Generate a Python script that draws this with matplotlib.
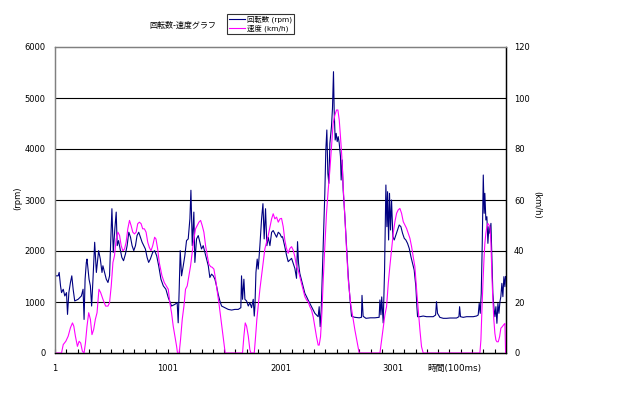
import matplotlib
matplotlib.use('Agg')
import matplotlib.pyplot as plt
import numpy as np

plt.rcParams['font.family'] = ['DejaVu Sans', 'Noto Sans CJK JP']

# 回転数 (rpm) : sample number / value
rpm_t = [1, 29, 38, 50, 59, 74, 88, 103, 112, 124, 138, 150, 162, 176, 206, 235, 250, 259, 268, 279,
         285, 303, 315, 326, 338, 353, 368, 388, 403, 418, 426, 441, 456, 471, 485, 494, 506, 518, 532, 544,
         553, 565, 579, 594, 609, 626, 641, 656, 671, 685, 700, 715, 729, 744, 759, 774, 788, 803, 818, 832,
         847, 868, 885, 903, 921, 941, 962, 985, 1006, 1035, 1065, 1085, 1094, 1103, 1112, 1124, 1139, 1153, 1168, 1183,
         1198, 1207, 1219, 1233, 1242, 1257, 1272, 1287, 1301, 1316, 1331, 1346, 1361, 1375, 1390, 1405, 1420, 1434, 1449, 1464,
         1479, 1508, 1538, 1568, 1597, 1627, 1650, 1656, 1665, 1677, 1686, 1701, 1716, 1730, 1745, 1760, 1769, 1775, 1784, 1795,
         1804, 1819, 1834, 1846, 1857, 1869, 1881, 1893, 1908, 1923, 1937, 1952, 1967, 1982, 1997, 2011, 2020, 2040, 2055, 2070,
         2085, 2100, 2114, 2129, 2144, 2153, 2162, 2173, 2188, 2203, 2218, 2233, 2247, 2262, 2277, 2292, 2307, 2321, 2336, 2345,
         2354, 2363, 2375, 2386, 2395, 2404, 2413, 2422, 2431, 2440, 2454, 2463, 2472, 2478, 2487, 2496, 2505, 2514, 2523, 2534,
         2540, 2549, 2558, 2573, 2588, 2603, 2617, 2632, 2660, 2700, 2720, 2725, 2735, 2760, 2800, 2840, 2877, 2884, 2893, 2900,
         2913, 2925, 2937, 2946, 2952, 2961, 2969, 2978, 2987, 2999, 3011, 3026, 3040, 3055, 3070, 3085, 3100, 3114, 3129, 3144,
         3159, 3174, 3188, 3203, 3212, 3218, 3239, 3268, 3298, 3327, 3357, 3378, 3386, 3395, 3416, 3446, 3475, 3505, 3534, 3564,
         3585, 3591, 3599, 3623, 3653, 3682, 3712, 3741, 3756, 3765, 3774, 3783, 3792, 3801, 3809, 3815, 3824, 3833, 3842, 3851,
         3860, 3869, 3878, 3886, 3895, 3904, 3913, 3922, 3931, 3940, 3949, 3957, 3966, 3975, 3984, 3993, 3999]
rpm_v = [1513, 1513, 1580, 1316, 1184, 1250, 1118, 1184, 757, 1184, 1382, 1513, 1250, 1020, 1053, 1118, 1250, 658, 1447, 1776,
         1842, 1447, 1316, 921, 1447, 2171, 1579, 2007, 1842, 1579, 1710, 1579, 1447, 1382, 1513, 2105, 2829, 1974, 2434, 2763,
         2105, 2204, 2039, 1875, 1809, 1941, 2105, 2368, 2270, 2105, 2007, 2105, 2303, 2368, 2270, 2171, 2105, 2039, 1875, 1776,
         1842, 1974, 2007, 1908, 1710, 1447, 1316, 1250, 1086, 921, 954, 987, 592, 1250, 2007, 1513, 1710, 1908, 2204, 2237,
         2632, 3191, 2105, 2763, 1776, 2237, 2303, 2171, 2039, 2105, 1974, 1842, 1710, 1480, 1546, 1513, 1447, 1316, 1151, 1020,
         921, 888, 855, 842, 855, 855, 888, 1513, 1053, 1447, 1053, 1020, 921, 987, 888, 1053, 724, 921, 1579, 1842,
         1645, 2105, 2632, 2928, 2237, 2829, 2105, 2270, 2105, 2368, 2401, 2336, 2270, 2368, 2336, 2270, 2281, 2085, 1922, 1791,
         1824, 1856, 1758, 1660, 1464, 2183, 1758, 1562, 1431, 1301, 1170, 1105, 1039, 974, 908, 843, 778, 745, 712, 908,
         516, 843, 1693, 2477, 3131, 3980, 4373, 3523, 3327, 4111, 4438, 4797, 5516, 4765, 4176, 4307, 4144, 4242, 4111, 3850,
         3392, 3784, 3196, 2673, 2085, 1500, 1100, 720, 700, 690, 700, 1130, 720, 680, 690, 690, 700, 1040, 750, 1100,
         590, 1600, 3294, 2477, 3163, 2216, 3131, 2412, 3000, 2281, 2216, 2314, 2412, 2510, 2477, 2346, 2248, 2216, 2150, 2052,
         1889, 1758, 1627, 1301, 908, 712, 712, 725, 712, 712, 712, 745, 1007, 778, 699, 680, 680, 686, 686, 686,
         712, 908, 712, 699, 712, 712, 712, 725, 745, 974, 778, 1170, 2150, 3490, 2739, 3131, 2608, 2673, 2150, 2477,
         2346, 2542, 1824, 1170, 908, 712, 908, 582, 974, 778, 1007, 1105, 1366, 1105, 1497, 1301, 1500]

# 速度 (km/h)
kmh_t = [1, 59, 74, 97, 118, 138, 156, 168, 182, 200, 215, 229, 244, 259, 271, 285, 300, 315, 329, 344,
         359, 374, 391, 406, 426, 450, 471, 485, 500, 515, 529, 544, 559, 574, 588, 603, 618, 632, 647, 662,
         676, 691, 706, 721, 735, 750, 765, 779, 794, 809, 824, 838, 853, 868, 885, 897, 912, 926, 950, 971,
         1006, 1020, 1035, 1050, 1065, 1080, 1088, 1103, 1115, 1130, 1145, 1159, 1174, 1189, 1204, 1219, 1233, 1248, 1263, 1278,
         1293, 1307, 1322, 1337, 1352, 1366, 1381, 1396, 1411, 1426, 1440, 1455, 1470, 1485, 1500, 1511, 1656, 1665, 1677, 1689,
         1701, 1716, 1730, 1739, 1769, 1781, 1792, 1804, 1819, 1834, 1849, 1863, 1878, 1893, 1908, 1923, 1937, 1952, 1967, 1982,
         1997, 2011, 2026, 2040, 2055, 2070, 2085, 2100, 2114, 2129, 2144, 2159, 2173, 2188, 2203, 2218, 2233, 2247, 2262, 2277,
         2292, 2307, 2321, 2336, 2345, 2357, 2369, 2381, 2395, 2410, 2425, 2440, 2454, 2469, 2484, 2499, 2511, 2523, 2534, 2546,
         2558, 2573, 2588, 2603, 2624, 2662, 2700, 2884, 2928, 2943, 2958, 2972, 2987, 3002, 3017, 3032, 3046, 3061, 3076, 3091,
         3105, 3120, 3135, 3150, 3165, 3179, 3194, 3203, 3212, 3224, 3239, 3253, 3268, 3771, 3780, 3789, 3798, 3807, 3815, 3824,
         3833, 3842, 3851, 3860, 3869, 3878, 3886, 3895, 3904, 3913, 3922, 3934, 3946, 3957, 3969, 3981, 3993, 3999]
kmh_v = [0, 0, 3.3, 4.6, 6.6, 9.9, 11.8, 10.5, 6.6, 2.6, 4.6, 3.9, 0.7, 0, 3.9, 10.5, 15.8, 13.2, 7.2, 9.2,
         13.2, 15.8, 25.0, 23.7, 21.1, 18.4, 18.4, 19.7, 26.3, 35.5, 38.2, 44.7, 47.4, 46.1, 42.1, 40.1, 40.8, 43.4, 48.7, 52.0,
         50.0, 47.4, 46.7, 47.4, 50.7, 51.3, 50.7, 48.7, 48.7, 47.4, 43.4, 41.4, 40.1, 42.1, 45.4, 44.7, 40.8, 35.5, 30.3, 27.6,
         25.0, 19.7, 15.8, 10.5, 6.6, 2.6, 0, 0, 5.3, 13.2, 18.4, 25.0, 26.3, 30.3, 34.2, 39.5, 44.7, 48.7, 50.0, 51.3,
         52.0, 50.0, 47.4, 42.1, 38.2, 34.9, 33.9, 33.6, 32.9, 28.9, 24.3, 19.7, 14.5, 9.2, 3.9, 0, 0, 0, 6.6, 11.8,
         10.5, 6.6, 1.3, 0, 0, 6.6, 13.2, 18.4, 25.0, 30.3, 35.5, 40.8, 43.4, 46.1, 49.3, 52.6, 54.6, 52.6, 53.3, 51.3,
         52.6, 52.8, 49.5, 44.3, 41.0, 39.1, 41.0, 41.7, 40.4, 37.8, 33.9, 32.5, 29.9, 27.3, 24.7, 22.1, 20.8, 20.1, 18.2, 16.9,
         14.2, 10.3, 6.4, 3.1, 3.1, 6.4, 15.6, 28.6, 41.7, 54.8, 63.9, 71.8, 80.9, 90.1, 93.3, 95.3, 95.3, 91.4, 84.8, 77.0,
         65.2, 53.5, 40.4, 28.6, 19.5, 9.0, 0, 0, 14.9, 18.2, 27.3, 33.9, 40.4, 46.9, 51.5, 54.8, 56.1, 56.7, 54.8, 51.5,
         50.2, 48.9, 46.9, 45.0, 41.7, 37.8, 33.9, 28.6, 23.4, 16.9, 9.0, 2.5, 0, 0, 5.1, 16.9, 27.3, 36.5, 43.0, 46.9,
         49.5, 50.8, 50.2, 49.5, 43.0, 29.9, 20.8, 12.9, 7.7, 5.1, 4.4, 4.4, 6.4, 9.7, 10.3, 11.0, 11.6, 0]

rpm_ticks = [0, 1000, 2000, 3000, 4000, 5000, 6000]
kmh_ticks = [0, 20, 40, 60, 80, 100, 120]
x_labels = [1, 1001, 2001, 3001]

fig = plt.figure(figsize=(6.4, 3.99), dpi=100)
ax = fig.add_axes([55 / 640, 1 - 353 / 399, 450.7 / 640, 306 / 399])
ax2 = ax.twinx()

for y in rpm_ticks[1:-1]:
    ax.axhline(y, color='black', lw=0.8, zorder=1)

l1, = ax.plot(rpm_t, rpm_v, color='#000080', lw=0.8, label='回転数 (rpm)', zorder=3)
l2, = ax2.plot(kmh_t, kmh_v, color='#FF00FF', lw=0.8, label='速度 (km/h)')

ax.set_xlim(1, 4000)
ax.set_ylim(0, 6000)
ax2.set_ylim(0, 120)
ax.set_yticks(rpm_ticks)
ax2.set_yticks(kmh_ticks)
ax.set_xticks(x_labels)
ax.set_xticks(np.arange(101, 4000, 100), minor=True)
ax.tick_params(axis='x', which='both', direction='in', length=3, width=0.8, labelsize=6, pad=8)
ax.tick_params(axis='y', length=0, labelsize=6, pad=7)
ax2.tick_params(axis='y', length=0, labelsize=6, pad=6)

for a in (ax, ax2):
    a.spines['top'].set_color('#808080')
    a.spines['left'].set_color('#808080')
    a.spines['bottom'].set_color('black')
    a.spines['right'].set_color('black')
    for s in a.spines.values():
        s.set_linewidth(0.9)

fig.text(183 / 640, 1 - 25 / 399, '回転数-速度グラフ', fontsize=5.8, ha='center', va='center')
fig.text(427 / 640, 1 - 368 / 399, '時間(100ms)', fontsize=6.3, ha='left', va='center')
fig.text(18 / 640, 1 - 198 / 399, '(rpm)', fontsize=6, rotation=90, ha='center', va='center')
fig.text(537 / 640, 1 - 205 / 399, '(km/h)', fontsize=6, rotation=270, ha='center', va='center')

leg = fig.legend(handles=[l1, l2], loc='center', bbox_to_anchor=(260.5 / 640, 1 - 24 / 399),
                 fontsize=5.3, frameon=True, fancybox=False, handlelength=2.2, handletextpad=0.3,
                 labelspacing=0.15, borderpad=0.25, borderaxespad=0)
leg.get_frame().set_edgecolor('black')
leg.get_frame().set_linewidth(0.8)

plt.savefig('out.png', dpi=100)
